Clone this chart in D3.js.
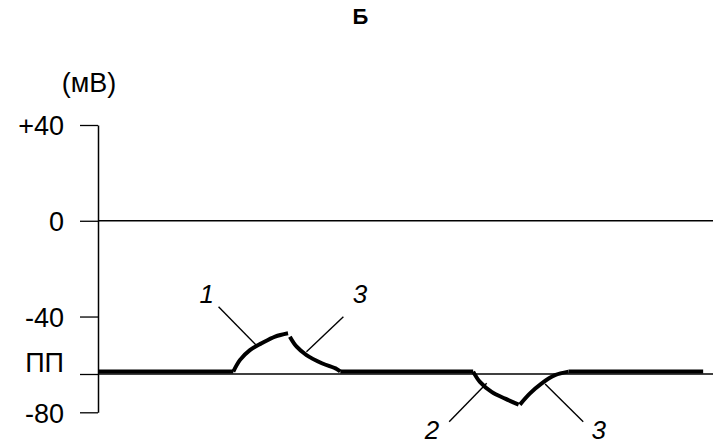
<!DOCTYPE html>
<html>
<head>
<meta charset="utf-8">
<script src="https://cdn.jsdelivr.net/npm/d3@7"></script>
<style>
    body { margin: 0; background: #fff; }
    text { font-family: "Liberation Sans", Arial, sans-serif; fill: #000; }
</style>
</head>
<body>
<div id="chart"></div>
<script>
    // membrane potential, mV
    const y_ticks = [40, 0, -40, -64, -80];
    const y_labels = ["+40", "0", "-40", "ПП", "-80"];
    const rest_level = -64;

    // thick trace pieces: [time, mV]
    const rest_1 = [[0, -63.0], [22.0, -63.0]];
    const rise_1 = [[22.0, -63.0], [23.1, -58.1], [24.7, -54.0], [26.6, -51.2], [28.8, -48.4], [30.9, -47.0]];
    const decay_1 = [[31.2, -48.4], [32.3, -52.6], [33.9, -56.1], [36.4, -59.5], [38.8, -61.9], [39.4, -63.0]];
    const rest_2 = [[39.4, -63.0], [61.0, -63.0]];
    const fall_2 = [[61.0, -63.0], [62.1, -67.3], [64.0, -71.5], [66.2, -74.3], [68.4, -76.8]];
    const decay_2 = [[68.6, -76.8], [70.2, -72.2], [72.1, -68.0], [74.3, -64.5], [76.5, -63.0]];
    const rest_3 = [[76.5, -63.0], [98.4, -63.0]];

    // labels and leader lines: [time, mV]
    const marks = ["1", "3", "2", "3"];
    const mark_pos = [[17.7, -34.2], [42.6, -34.2], [54.3, -91.3], [81.4, -91.2]];
    const leaders = [
        [[19.6, -35.9], [25.7, -51.9]],
        [[39.9, -40.1], [33.9, -54.7]],
        [[63.2, -67.9], [57.1, -83.9]],
        [[72.7, -68.2], [78.9, -83.9]]
    ];

    const width = 713, height = 445;
    const svg = d3.select("#chart").append("svg")
        .attr("width", width)
        .attr("height", height);

    const xScale = d3.scaleLinear().domain([0, 100]).range([98, 713]);
    const yScale = d3.scaleLinear().domain([-80, 40]).range([412.3, 125]);

    // title
    svg.append("text")
        .attr("x", 360.5).attr("y", 23.5)
        .attr("text-anchor", "middle")
        .style("font-size", "22px")
        .style("font-weight", "bold")
        .text("Б");

    svg.append("text")
        .attr("x", 89).attr("y", 92)
        .attr("text-anchor", "middle")
        .style("font-size", "27px")
        .text("(мВ)");

    // y axis
    const yAxis = d3.axisLeft(yScale)
        .tickValues(y_ticks)
        .tickSize(18)
        .tickSizeOuter(0)
        .tickPadding(16)
        .tickFormat((d, i) => y_labels[i]);

    const axis = svg.append("g")
        .attr("transform", "translate(" + xScale(0) + ",0)")
        .call(yAxis);
    axis.select(".domain").attr("stroke-width", 1.5);
    axis.selectAll(".tick line").attr("stroke-width", 1.3);
    axis.selectAll(".tick text")
        .style("font-size", "27px")
        .style("font-family", "'Liberation Sans', Arial, sans-serif")
        .attr("dy", d => d === rest_level ? "-0.08em" : "0.36em");

    // zero line and resting level (thin)
    [0, rest_level].forEach(v => {
        svg.append("line")
            .attr("x1", xScale(0)).attr("x2", width)
            .attr("y1", yScale(v)).attr("y2", yScale(v))
            .attr("stroke", "#000")
            .attr("stroke-width", 1.3);
    });

    // thick trace
    const line = d3.line()
        .x(d => xScale(d[0]))
        .y(d => yScale(d[1]))
        .curve(d3.curveCatmullRom);

    [rest_1, rise_1, decay_1, rest_2, fall_2, decay_2, rest_3].forEach(seg => {
        svg.append("path")
            .datum(seg)
            .attr("d", line)
            .attr("fill", "none")
            .attr("stroke", "#000")
            .attr("stroke-width", 4);
    });

    // leader lines
    svg.selectAll(".leader")
        .data(leaders)
        .join("line")
        .attr("class", "leader")
        .attr("x1", d => xScale(d[0][0])).attr("y1", d => yScale(d[0][1]))
        .attr("x2", d => xScale(d[1][0])).attr("y2", d => yScale(d[1][1]))
        .attr("stroke", "#000")
        .attr("stroke-width", 1.4);

    svg.selectAll(".mark")
        .data(marks)
        .join("text")
        .attr("class", "mark")
        .attr("x", (d, i) => xScale(mark_pos[i][0]))
        .attr("y", (d, i) => yScale(mark_pos[i][1]))
        .attr("text-anchor", "middle")
        .style("font-size", "26px")
        .style("font-style", "italic")
        .text(d => d);
</script>
</body>
</html>
